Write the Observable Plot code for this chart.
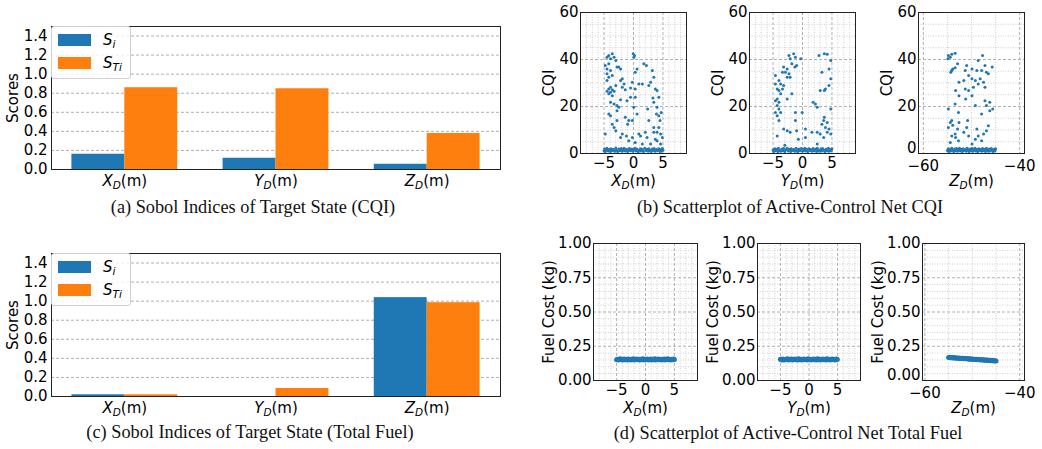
<!DOCTYPE html>
<html><head><meta charset="utf-8">
<script src="https://cdn.jsdelivr.net/npm/d3@7"></script>
<script src="https://cdn.jsdelivr.net/npm/@observablehq/plot@0.6"></script>
<style>
body{margin:0;background:#fff;}
#root{position:relative;width:1042px;height:449px;overflow:hidden;font-family:"DejaVu Sans";}
.panel{position:absolute;}
.panel svg{overflow:visible;}
.cap{position:absolute;width:560px;text-align:center;font-family:"Liberation Serif";font-size:18.3px;line-height:18px;color:#111;white-space:nowrap;}
.legend{position:absolute;width:78px;height:51px;border:1px solid #d0d0d0;border-radius:3px;background:rgba(255,255,255,0.8);z-index:5;}
.sw{position:absolute;left:6px;width:33px;height:12px;}
.lt{position:absolute;left:51px;font-family:"DejaVu Sans";font-style:italic;font-size:15px;line-height:15px;color:#000;}
.lt sub{font-size:10.5px;vertical-align:-3px;line-height:0;}
</style></head><body><div id="root"></div>
<script>
const blue = "#1f77b4", orange = "#ff7f0e";

// ---- bar chart data ----
const targets = ["X", "Y", "Z"];
const seriesNames = ["Si", "STi"];
const siCQI = [0.160, 0.118, 0.055];
const stiCQI = [0.858, 0.847, 0.378];
const siFuel = [0.018, 0.0, 1.037];
const stiFuel = [0.018, 0.084, 0.984];
const scoreTicks = [0, 0.2, 0.4, 0.6, 0.8, 1.0, 1.2, 1.4];

// ---- scatter data: CQI ----
const cqiVsX = [[-4.2,41.7],[-3.6,42.4],[-4.5,41.0],[-3.9,40.3],[-3.3,41.0],[-3.0,39.6],[-2.8,36.8],[-4.2,38.2],[-4.8,37.5],[-4.5,36.0],[-3.9,35.3],[-4.5,33.9],[-4.2,32.5],[-3.6,33.2],[-4.5,31.1],[-3.9,28.2],[-4.2,27.5],[-3.6,27.1],[-3.9,26.1],[-4.5,26.5],[-3.3,26.5],[-4.2,25.4],[-3.6,24.6],[-3.0,28.9],[-2.2,36.0],[-2.5,36.8],[-1.9,31.8],[-2.2,31.1],[-1.6,29.6],[-1.9,28.2],[-1.4,27.1],[-0.5,27.9],[-1.1,22.5],[-2.2,22.9],[-2.8,20.4],[-3.3,21.1],[-3.9,21.8],[-4.2,16.8],[-3.9,16.1],[-2.8,18.2],[-2.5,19.7],[-3.3,11.1],[-3.0,9.7],[-3.6,12.5],[-2.2,6.8],[-1.9,8.3],[-4.8,8.3],[-2.8,14.0],[-1.2,7.5],[-0.8,14.0],[-1.0,12.5],[-1.4,15.4],[-0.06,42.4],[0.17,41.7],[0.06,41.0],[0.6,36.0],[0.3,34.6],[-0.2,30.3],[0.9,29.6],[0.3,27.5],[-0.5,23.9],[0.06,19.7],[0.6,16.8],[-0.2,14.0],[0.3,23.9],[-0.8,5.4],[0.9,8.3],[1.2,7.5],[0.3,4.7],[-0.2,6.8],[1.75,38.2],[2.2,37.5],[2.9,30.3],[1.5,29.6],[2.6,28.9],[3.45,32.5],[3.7,27.5],[4.0,26.8],[3.2,35.3],[3.3,23.6],[2.4,18.9],[3.45,21.8],[4.0,19.7],[4.3,23.9],[3.9,16.8],[4.3,16.1],[4.7,17.5],[4.5,14.0],[4.3,11.1],[3.45,11.1],[4.0,9.0],[4.6,8.3],[3.45,9.0],[4.9,6.8],[3.7,6.1],[2.3,6.8],[2.0,9.0],[2.6,14.0],[4.6,4.0],[2.9,4.0],[1.5,4.0],[4.0,5.4]];
const cqiBandX = [[-5.0,1.2],[-4.9,1.9],[-4.8,0.9],[-4.6,1.6],[-4.5,2.2],[-4.3,1.1],[-4.1,1.7],[-3.9,0.9],[-3.8,2.0],[-3.6,1.3],[-3.4,1.8],[-3.2,1.0],[-3.0,2.3],[-2.9,1.4],[-2.7,0.9],[-2.5,1.9],[-2.3,1.2],[-2.1,2.1],[-1.9,1.0],[-1.8,1.6],[-1.6,2.2],[-1.4,1.1],[-1.2,1.8],[-1.0,0.9],[-0.8,1.5],[-0.7,2.1],[-0.5,1.2],[-0.3,1.9],[-0.1,1.0],[0.1,1.7],[0.3,2.2],[0.4,1.1],[0.6,1.8],[0.8,0.9],[1.0,1.5],[1.2,2.0],[1.3,1.1],[1.5,1.7],[1.7,0.9],[1.9,2.2],[2.1,1.3],[2.3,1.8],[2.5,1.0],[2.6,2.0],[2.8,1.4],[3.0,0.9],[3.2,1.9],[3.4,1.2],[3.5,2.1],[3.7,1.0],[3.9,1.7],[4.1,1.3],[4.3,2.0],[4.5,0.9],[4.6,1.6],[4.8,1.1],[4.9,2.1],[5.0,1.4]];
const cqiVsY = [[-2.3,41.7],[-1.5,42.4],[-1.2,41.0],[-2.1,40.3],[-0.3,40.3],[-1.8,38.2],[-1.0,37.5],[-3.2,36.8],[-2.6,36.0],[-2.9,34.6],[-2.3,33.9],[-3.4,34.6],[-4.6,33.2],[-2.6,32.5],[-2.1,32.5],[-4.0,31.1],[-4.6,29.6],[-3.7,29.6],[-3.2,28.9],[-4.3,27.5],[-4.0,26.8],[-3.4,27.5],[-3.7,25.4],[-4.3,23.2],[-4.6,22.5],[-4.0,21.8],[-4.3,20.4],[-4.0,18.9],[-4.6,17.5],[-3.7,17.5],[-4.3,16.1],[-4.0,14.0],[-1.2,17.5],[-0.06,17.5],[-1.2,14.0],[-3.2,10.4],[-2.6,9.7],[-2.1,9.0],[-1.0,9.7],[-4.3,7.5],[-0.7,6.1],[0.5,10.4],[0.5,6.8],[1.8,21.8],[2.2,21.1],[2.5,19.7],[2.8,41.7],[3.7,42.4],[3.7,26.8],[3.7,15.4],[1.6,9.0],[-1.8,25.4],[-2.6,23.2],[4.2,42.2],[4.8,39.6],[3.3,34.6],[4.5,36.0],[4.8,31.8],[3.0,26.8],[3.9,27.5],[4.5,28.9],[4.8,18.9],[3.6,14.0],[4.2,13.2],[3.3,12.5],[3.9,11.1],[4.5,10.4],[4.2,9.0],[4.8,8.3],[3.0,8.3],[3.6,6.8],[2.5,9.0],[-1.3,36.8],[2.5,4.0],[-3.0,3.5]];
const cqiBandY = [[-5.0,1.5],[-4.9,0.9],[-4.7,2.0],[-4.6,1.2],[-4.4,1.8],[-4.2,0.9],[-4.1,2.2],[-3.9,1.4],[-3.7,1.0],[-3.5,1.9],[-3.3,1.2],[-3.2,2.1],[-3.0,0.9],[-2.8,1.6],[-2.6,2.2],[-2.4,1.1],[-2.2,1.8],[-2.0,0.9],[-1.9,2.0],[-1.7,1.3],[-1.5,1.7],[-1.3,1.0],[-1.1,2.2],[-0.9,1.4],[-0.8,0.9],[-0.6,1.9],[-0.4,1.2],[-0.2,2.1],[0.0,1.0],[0.2,1.6],[0.4,2.2],[0.5,1.1],[0.7,1.8],[0.9,0.9],[1.1,2.0],[1.3,1.3],[1.4,1.7],[1.6,1.0],[1.8,2.1],[2.0,1.2],[2.2,1.8],[2.4,0.9],[2.5,2.2],[2.7,1.4],[2.9,1.0],[3.1,1.9],[3.3,1.1],[3.4,2.1],[3.6,1.5],[3.8,0.9],[4.0,1.8],[4.2,1.2],[4.4,2.2],[4.5,1.0],[4.7,1.7],[4.9,1.2],[5.0,2.0]];
const cqiVsZ = [[-54.8,41.7],[-54.1,42.2],[-53.4,42.7],[-54.4,41.0],[-54.9,40.3],[-52.9,38.2],[-53.9,36.0],[-54.1,35.3],[-54.3,34.6],[-53.4,36.5],[-51.0,37.5],[-51.3,35.3],[-49.9,36.0],[-48.9,35.3],[-47.7,41.7],[-48.6,39.6],[-47.2,37.5],[-46.9,34.6],[-45.7,36.8],[-47.9,35.3],[-46.5,33.9],[-50.6,33.2],[-51.6,31.1],[-49.9,31.8],[-49.2,31.1],[-48.2,31.8],[-47.5,30.3],[-51.3,27.5],[-50.6,26.8],[-49.6,28.2],[-49.9,24.6],[-52.6,30.3],[-53.3,26.8],[-48.6,29.6],[-47.2,28.2],[-52.6,24.6],[-51.2,23.2],[-47.2,22.5],[-46.2,21.8],[-46.9,20.4],[-45.6,18.9],[-46.2,18.2],[-47.9,16.8],[-49.2,20.4],[-53.4,21.1],[-52.7,17.5],[-54.8,18.9],[-54.1,14.0],[-54.4,13.2],[-54.8,11.1],[-53.9,12.0],[-52.6,13.2],[-50.8,14.0],[-52.9,10.4],[-53.4,8.3],[-54.1,7.5],[-53.3,6.8],[-51.6,9.0],[-51.0,11.1],[-48.9,10.4],[-48.6,7.5],[-49.2,6.1],[-47.5,8.3],[-46.9,9.7],[-46.5,11.8],[-47.9,5.4],[-54.4,4.7],[-52.7,5.4],[-49.9,4.0],[-50.6,7.5]];
const cqiBandZ = [[-55.0,1.3],[-54.8,2.0],[-54.7,0.9],[-54.5,1.7],[-54.3,1.1],[-54.1,2.2],[-53.9,1.4],[-53.7,0.9],[-53.5,1.9],[-53.3,1.2],[-53.1,2.1],[-52.9,1.0],[-52.7,1.6],[-52.5,2.2],[-52.3,1.1],[-52.1,1.8],[-51.9,0.9],[-51.7,2.0],[-51.5,1.3],[-51.3,1.7],[-51.1,1.0],[-50.9,2.2],[-50.7,1.4],[-50.5,0.9],[-50.3,1.9],[-50.1,1.2],[-49.9,2.1],[-49.7,1.0],[-49.5,1.6],[-49.3,2.2],[-49.1,1.1],[-48.9,1.8],[-48.7,0.9],[-48.5,2.0],[-48.3,1.3],[-48.1,1.7],[-47.9,1.0],[-47.7,2.1],[-47.5,1.2],[-47.3,1.8],[-47.1,0.9],[-46.9,2.2],[-46.7,1.4],[-46.5,1.0],[-46.3,1.9],[-46.1,1.1],[-45.9,2.1],[-45.7,1.5],[-45.5,0.9],[-45.3,1.8],[-45.1,1.2],[-45.0,2.0]];

// ---- scatter data: fuel ----
const fuelVsX = [[-5.0,0.152],[-4.85,0.156],[-4.7,0.150],[-4.55,0.155],[-4.4,0.158],[-4.2,0.151],[-4.05,0.155],[-3.9,0.149],[-3.7,0.157],[-3.5,0.152],[-3.35,0.155],[-3.15,0.150],[-3.0,0.157],[-2.8,0.153],[-2.6,0.149],[-2.45,0.156],[-2.25,0.152],[-2.1,0.158],[-1.9,0.150],[-1.7,0.154],[-1.55,0.157],[-1.35,0.151],[-1.15,0.155],[-1.0,0.149],[-0.8,0.156],[-0.6,0.152],[-0.45,0.158],[-0.25,0.150],[-0.05,0.155],[0.1,0.151],[0.3,0.157],[0.5,0.149],[0.65,0.154],[0.85,0.157],[1.05,0.150],[1.2,0.155],[1.4,0.152],[1.6,0.158],[1.75,0.150],[1.95,0.154],[2.15,0.157],[2.3,0.151],[2.5,0.155],[2.7,0.149],[2.85,0.156],[3.05,0.152],[3.25,0.157],[3.4,0.150],[3.6,0.154],[3.8,0.158],[3.95,0.151],[4.15,0.155],[4.35,0.149],[4.5,0.156],[4.7,0.152],[4.85,0.157],[5.0,0.153]];
const fuelVsY = [[-5.0,0.155],[-4.8,0.150],[-4.65,0.157],[-4.5,0.152],[-4.3,0.149],[-4.1,0.156],[-3.95,0.153],[-3.75,0.158],[-3.6,0.150],[-3.4,0.155],[-3.2,0.151],[-3.05,0.157],[-2.85,0.149],[-2.7,0.154],[-2.5,0.157],[-2.3,0.151],[-2.15,0.155],[-1.95,0.150],[-1.8,0.158],[-1.6,0.152],[-1.4,0.156],[-1.25,0.149],[-1.05,0.154],[-0.9,0.157],[-0.7,0.151],[-0.5,0.155],[-0.35,0.150],[-0.15,0.158],[0.0,0.152],[0.2,0.156],[0.4,0.149],[0.55,0.154],[0.75,0.157],[0.95,0.151],[1.1,0.155],[1.3,0.150],[1.5,0.158],[1.65,0.152],[1.85,0.156],[2.05,0.149],[2.2,0.154],[2.4,0.157],[2.6,0.151],[2.75,0.155],[2.95,0.150],[3.15,0.158],[3.3,0.152],[3.5,0.156],[3.7,0.149],[3.85,0.154],[4.05,0.157],[4.25,0.151],[4.4,0.155],[4.6,0.150],[4.8,0.157],[4.95,0.153]];
const fuelVsZ = [[-55.0,0.168],[-54.8,0.170],[-54.6,0.166],[-54.4,0.168],[-54.2,0.165],[-54.0,0.167],[-53.8,0.164],[-53.6,0.166],[-53.4,0.163],[-53.2,0.165],[-53.0,0.162],[-52.8,0.164],[-52.6,0.161],[-52.4,0.163],[-52.2,0.160],[-52.0,0.162],[-51.8,0.159],[-51.6,0.161],[-51.4,0.158],[-51.2,0.160],[-51.0,0.157],[-50.8,0.159],[-50.6,0.156],[-50.4,0.158],[-50.2,0.155],[-50.0,0.157],[-49.8,0.154],[-49.6,0.156],[-49.4,0.153],[-49.2,0.155],[-49.0,0.152],[-48.8,0.154],[-48.6,0.151],[-48.4,0.153],[-48.2,0.150],[-48.0,0.152],[-47.8,0.149],[-47.6,0.151],[-47.4,0.148],[-47.2,0.150],[-47.0,0.147],[-46.8,0.149],[-46.6,0.146],[-46.4,0.148],[-46.2,0.145],[-46.0,0.147],[-45.8,0.144],[-45.6,0.146],[-45.4,0.143],[-45.2,0.145],[-45.0,0.142]];

const cqiTicks = [0, 20, 40, 60];
const cqiMinor = [5, 10, 15, 25, 30, 35, 45, 50, 55];
const fuelTicks = [0, 0.25, 0.5, 0.75, 1.0];
const fuelMinor = [0.05,0.1,0.15,0.2,0.3,0.35,0.4,0.45,0.55,0.6,0.65,0.7,0.8,0.85,0.9,0.95];
const xyTicks = [-5, 0, 5];
const xyMinor = [-9,-8,-7,-6,-4,-3,-2,-1,1,2,3,4,6,7,8,9];
const zTicks = [-60, -40];
const zMinor = [-55, -50, -45];

const root = document.getElementById("root");
const NS = "http://www.w3.org/2000/svg";

function subscriptLabel(el, letter) {
  while (el.firstChild) el.removeChild(el.firstChild);
  const a = document.createElementNS(NS, "tspan");
  a.setAttribute("font-style", "italic"); a.textContent = letter;
  const b = document.createElementNS(NS, "tspan");
  b.setAttribute("font-style", "italic"); b.setAttribute("font-size", "10.5"); b.setAttribute("dy", "3"); b.textContent = "D";
  const c = document.createElementNS(NS, "tspan");
  c.setAttribute("dy", "-3"); c.textContent = "(m)";
  el.append(a, b, c);
}

function place(svg, left, top) {
  const d = document.createElement("div");
  d.className = "panel"; d.style.left = left + "px"; d.style.top = top + "px";
  d.appendChild(svg); root.appendChild(d);
}

const baseStyle = {fontFamily: "DejaVu Sans", fontSize: "15px", background: "transparent", color: "#000", overflow: "visible"};

function barRows(si, sti) {
  const rows = [];
  targets.forEach((t, i) => {
    rows.push({series: "Si", value: si[i], x1: i - 0.35, x2: i});
    rows.push({series: "STi", value: sti[i], x1: i, x2: i + 0.35});
  });
  return rows;
}

function barChart(si, sti) {
  const svg = Plot.plot({
    width: 510, height: 195, marginLeft: 51, marginRight: 10, marginTop: 26, marginBottom: 26,
    style: baseStyle,
    x: {domain: [-0.485, 2.485], ticks: [0, 1, 2], tickFormat: i => targets[i], tickSize: 0, tickPadding: 6, label: null},
    y: {domain: [0, 1.5], ticks: scoreTicks, tickFormat: d3.format(".1f"), tickSize: 0, tickPadding: 4, label: "Scores", labelAnchor: "center", labelOffset: 44, labelArrow: "none"},
    color: {domain: seriesNames, range: [blue, orange]},
    marks: [
      Plot.gridY(scoreTicks.slice(1), {stroke: "#b0b0b0", strokeOpacity: 1, strokeDasharray: "3,2"}),
      Plot.rectY(barRows(si, sti), {x1: "x1", x2: "x2", y: "value", fill: "series"}),
      Plot.frame({stroke: "#222"})
    ]
  });
  svg.querySelectorAll('g[aria-label="x-axis tick label"] text').forEach(t => subscriptLabel(t, t.textContent.trim()));
  svg.querySelectorAll('g[aria-label="y-axis label"] text').forEach(t => t.textContent = "Scores");
  return svg;
}

function scatter(o) {
  const svg = Plot.plot({
    width: o.w, height: 195, marginLeft: o.ml, marginRight: o.w - o.ml - o.fw, marginTop: o.mt, marginBottom: 195 - o.mt - o.fh,
    style: baseStyle,
    x: {domain: o.xDomain, ticks: o.xTicks, tickSize: 0, tickPadding: o.xpad, label: o.letter, labelAnchor: "center", labelOffset: 32, labelArrow: "none"},
    y: {domain: o.yDomain, ticks: o.yTicks, tickFormat: o.yFmt, tickSize: 0, tickPadding: 2, label: o.yLabel, labelAnchor: "center", labelOffset: o.ylo, labelArrow: "none"},
    marks: [
      Plot.gridX(o.xMinor, {stroke: "#cfcfcf", strokeOpacity: 1, strokeDasharray: "1,1.5"}),
      Plot.gridY(o.yMinor, {stroke: "#cfcfcf", strokeOpacity: 1, strokeDasharray: "1,1.5"}),
      Plot.gridX(o.xTicks, {stroke: "#b0b0b0", strokeOpacity: 1, strokeDasharray: "3,2"}),
      Plot.gridY(o.yTicks, {stroke: "#b0b0b0", strokeOpacity: 1, strokeDasharray: "3,2"}),
      ...o.sets.map(s => Plot.dot(s, {x: d => d[0], y: d => d[1], r: o.r, fill: blue, stroke: "none"})),
      Plot.frame({stroke: "#222"})
    ]
  });
  svg.querySelectorAll('g[aria-label="x-axis label"] text').forEach(t => subscriptLabel(t, o.letter));
  svg.querySelectorAll('g[aria-label="y-axis label"] text').forEach(t => t.textContent = o.yLabel);
  if (o.liftZero) {
    // nudge the bottom y tick label up so it clears the first x tick label
    const labels = svg.querySelectorAll('g[aria-label="y-axis tick label"] text');
    labels.forEach(t => {
      if (parseFloat(t.textContent) === 0) {
        t.setAttribute("transform", (t.getAttribute("transform") || "") + " translate(0,-" + o.liftZero + ")");
      }
    });
  }
  return svg;
}

place(barChart(siCQI, stiCQI), 0, 0);
place(barChart(siFuel, stiFuel), 0, 227);

const cqiCommon = {mt: 12, fh: 141, fw: 106, w: 160, ml: 44, yDomain: [0, 60], yTicks: cqiTicks, yMinor: cqiMinor, yFmt: d3.format("d"), yLabel: "CQI", ylo: 37, r: 1.5};
place(scatter({...cqiCommon, xDomain: [-9, 9], xTicks: xyTicks, xMinor: xyMinor, xpad: 4, letter: "X", sets: [cqiBandX, cqiVsX]}), 536, 0);
place(scatter({...cqiCommon, xDomain: [-9, 9], xTicks: xyTicks, xMinor: xyMinor, xpad: 4, letter: "Y", sets: [cqiBandY, cqiVsY]}), 705, 0);
place(scatter({...cqiCommon, xDomain: [-61, -39], xTicks: zTicks, xMinor: zMinor, xpad: 7, liftZero: 5, letter: "Z", sets: [cqiBandZ, cqiVsZ]}), 874, 0);

const fuelCommon = {mt: 18, fh: 137, ml: 53, yDomain: [0, 1], yTicks: fuelTicks, yMinor: fuelMinor, yFmt: d3.format(".2f"), yLabel: "Fuel Cost (kg)", ylo: 50, r: 2.5};
place(scatter({...fuelCommon, w: 167, fw: 104, xDomain: [-9, 9], xTicks: xyTicks, xMinor: xyMinor, xpad: 4, letter: "X", sets: [fuelVsX]}), 540, 225);
place(scatter({...fuelCommon, w: 166, fw: 103, xDomain: [-9, 9], xTicks: xyTicks, xMinor: xyMinor, xpad: 4, letter: "Y", sets: [fuelVsY]}), 704, 225);
place(scatter({...fuelCommon, w: 165, fw: 102, xDomain: [-60.5, -39], xTicks: zTicks, xMinor: zMinor, xpad: 7, liftZero: 5, letter: "Z", sets: [fuelVsZ]}), 869, 225);

// legends
function legend(left, top) {
  const d = document.createElement("div");
  d.className = "legend"; d.style.left = left + "px"; d.style.top = top + "px";
  d.innerHTML = `<div class="sw" style="top:7px;background:${blue}"></div><div class="lt" style="top:6px">S<sub>i</sub></div>` +
                `<div class="sw" style="top:30px;background:${orange}"></div><div class="lt" style="top:29px">S<sub>Ti</sub></div>`;
  root.appendChild(d);
}
legend(51, 26);
legend(51, 253);

// captions
function caption(text, cx, cy) {
  const d = document.createElement("div");
  d.className = "cap"; d.textContent = text;
  d.style.left = (cx - 280) + "px"; d.style.top = (cy - 9) + "px";
  root.appendChild(d);
}
caption("(a) Sobol Indices of Target State (CQI)", 253, 207);
caption("(b) Scatterplot of Active-Control Net CQI", 790, 207);
caption("(c) Sobol Indices of Target State (Total Fuel)", 250, 432);
caption("(d) Scatterplot of Active-Control Net Total Fuel", 788, 433);
</script></body></html>
